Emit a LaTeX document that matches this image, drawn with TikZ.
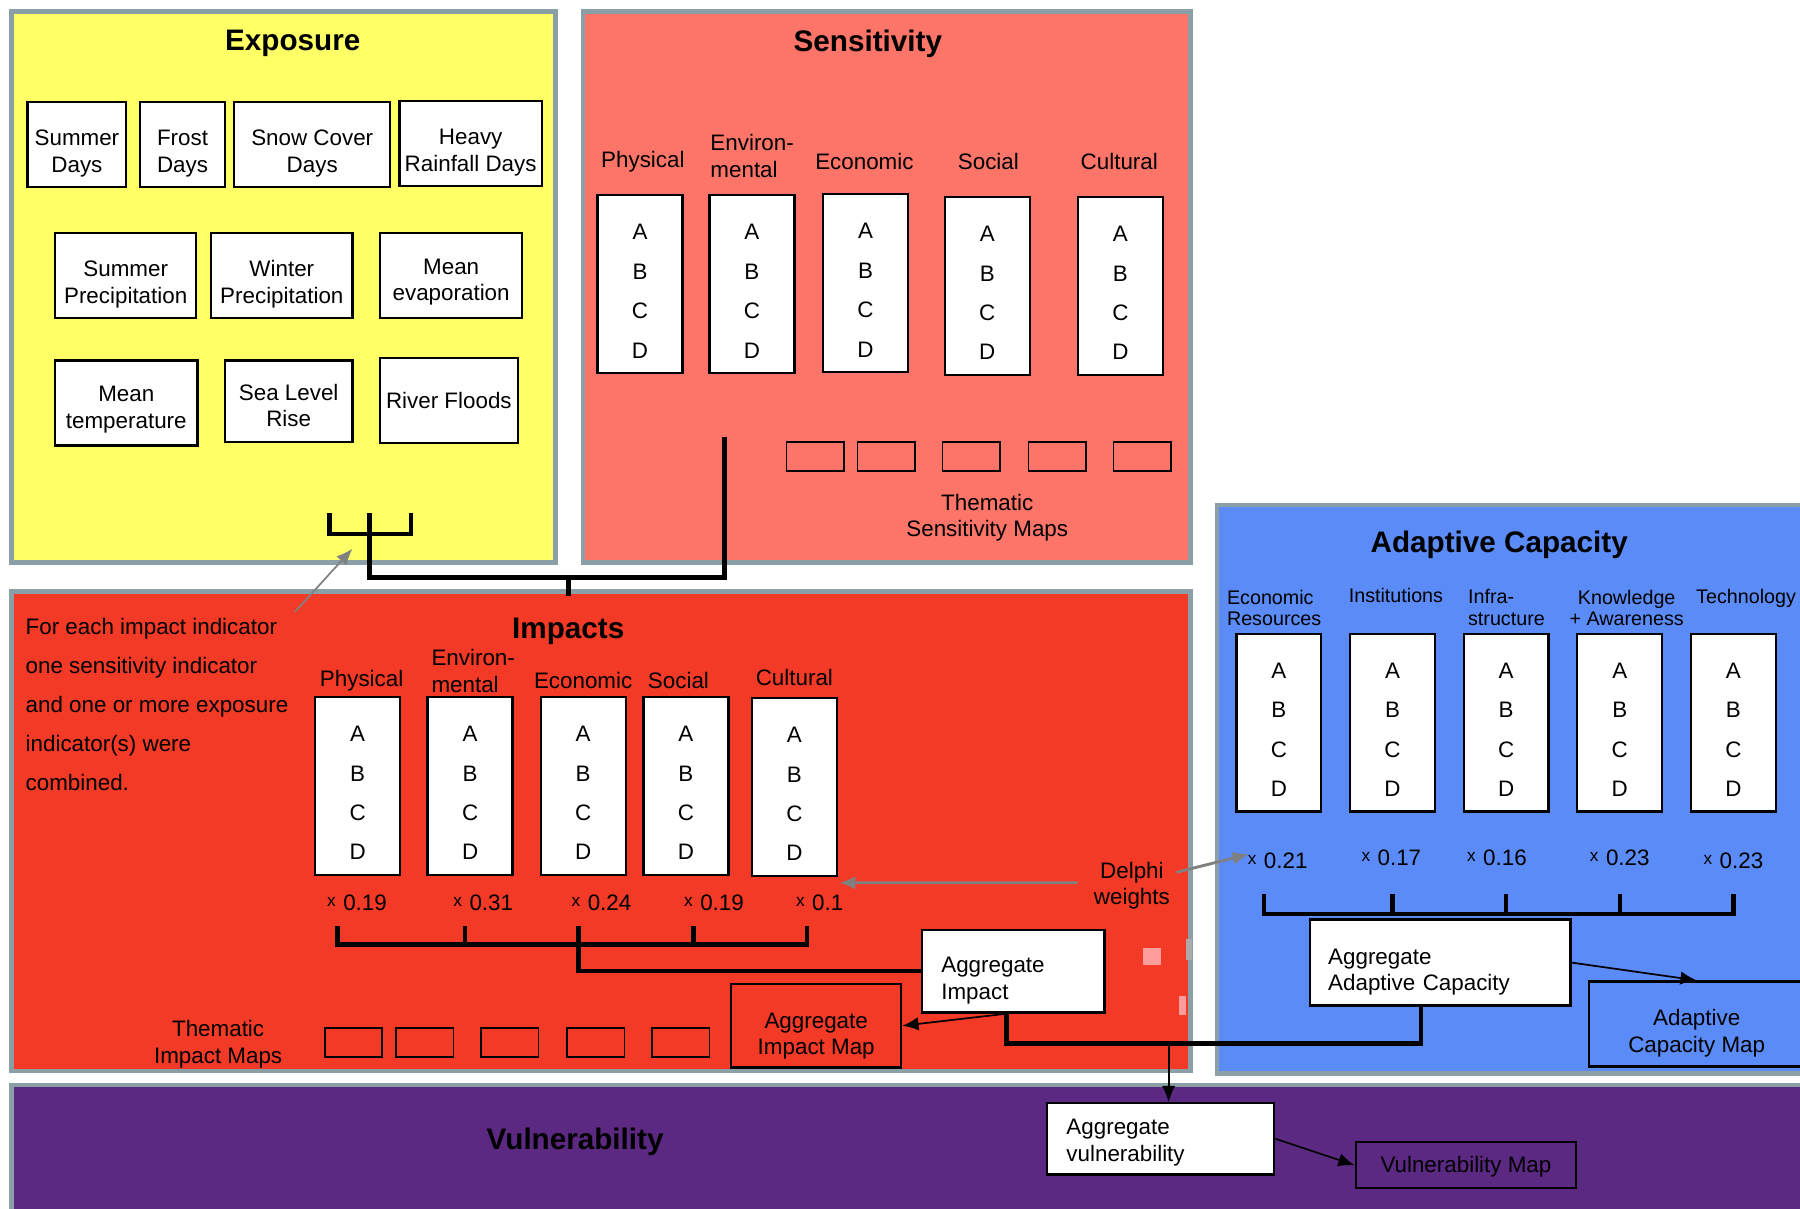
\documentclass[tikz,border=0pt]{standalone}
\usepackage{fontspec}
\setmainfont{Liberation Sans}
\usetikzlibrary{arrows.meta,positioning}
\definecolor{expYellow}{HTML}{FFFF66}
\definecolor{senSalmon}{HTML}{FD7468}
\definecolor{impRed}{HTML}{F33A27}
\definecolor{adaBlue}{HTML}{5B8BF7}
\definecolor{vulPurple}{HTML}{5B2882}
\definecolor{frameGray}{HTML}{8AA0A6}
\definecolor{pointerGray}{HTML}{808080}
\definecolor{artPink}{HTML}{FF9C9C}
\definecolor{artGray}{HTML}{AAAAAA}
\newcommand{\wgt}[1]{\raisebox{2pt}{\fontsize{9}{9}\selectfont x}\,\,#1}
\newcommand{\topgap}[1]{\rule{0pt}{#1}}
\newcommand{\letters}{\topgap{15.6pt}A\\B\\C\\D}

\begin{document}
\begin{tikzpicture}[
    x=0.6pt, y=-0.6pt,
    >={Latex[length=8.5pt,width=7pt]},
    every node/.style={font=\fontsize{11.7}{13.8}\selectfont},
    panel/.style={draw=frameGray,line width=2.4pt},
    ttl/.style={font=\fontsize{15.5}{18}\selectfont\bfseries},
    lab/.style={align=center},
    small/.style={font=\fontsize{10.3}{11.4}\selectfont},
    ibox/.style={draw,fill=white,line width=1.2pt,inner sep=0pt,align=center},
    abcd/.style={ibox,minimum width=44.4pt,minimum height=93pt,font=\fontsize{11.7}{20.6}\selectfont},
    mapbox/.style={draw,line width=0.9pt,minimum width=30pt,minimum height=15pt,inner sep=0pt},
    brk/.style={line width=2.4pt},
    arr/.style={->,line width=0.9pt},
    garr/.style={->,line width=1.5pt,pointerGray}
  ]
  \useasboundingbox (0,0) rectangle (1568,1053);
  %% Panels
  \filldraw[panel,fill=expYellow] (10,10) rectangle (484,490);
  \filldraw[panel,fill=senSalmon] (508,10) rectangle (1037,490);
  \filldraw[panel,fill=impRed] (10,515) rectangle (1037,933);
  \filldraw[panel,fill=adaBlue] (1060,440) rectangle (1600,935);
  \filldraw[panel,fill=vulPurple] (10,945) rectangle (1600,1080);
  \fill[artPink] (996,826) rectangle (1011,841);
  \fill[artGray] (1033,818) rectangle (1038,836);
  \fill[artPink] (1027,868) rectangle (1033,884);
  \node[ttl] (expT) at (255,38) {Exposure};
  \node[ttl] (senT) at (756,38) {Sensitivity};
  \node[ttl] (impT) at (495,550) {Impacts};
  \node[ttl] (adaT) at (1306,475) {Adaptive Capacity};
  \node[ttl] (vulT) at (501,995) {Vulnerability};
  %% Exposure indicators
  \node[ibox,minimum width=51.6pt,minimum height=44.4pt] (eSumD) at (67,126) {\topgap{17.4pt}Summer\\Days};
  \node[ibox,minimum width=44.4pt,minimum height=44.4pt] (eFrost) at (159,126) {\topgap{17.4pt}Frost\\Days};
  \node[ibox,minimum width=81.6pt,minimum height=44.4pt] (eSnow) at (272,126) {\topgap{17.4pt}Snow Cover\\Days};
  \node[ibox,minimum width=74.4pt,minimum height=44.4pt] (eRain) at (410,125) {\topgap{17.4pt}Heavy\\Rainfall Days};
  \node[ibox,minimum width=73.8pt,minimum height=44.4pt] (eSumP) at (109.5,240) {\topgap{17.4pt}Summer\\Precipitation};
  \node[ibox,minimum width=73.8pt,minimum height=44.4pt] (eWinP) at (245.5,240) {\topgap{17.4pt}Winter\\Precipitation};
  \node[ibox,minimum width=74.4pt,minimum height=44.4pt] (eEvap) at (393,240) {\topgap{15pt}Mean\\evaporation};
  \node[ibox,minimum width=74.4pt,minimum height=44.4pt] (eTemp) at (110,351) {\topgap{15pt}Mean\\temperature};
  \node[ibox,minimum width=66.6pt,minimum height=42.6pt] (eSea) at (251.5,349.5) {\topgap{13pt}Sea Level\\Rise};
  \node[ibox,minimum width=72pt,minimum height=44.4pt] (eFlood) at (391,349) {River Floods};
  %% Exposure + sensitivity combined into impacts
  \draw[brk] (287,447) |- (358,465) -- (358,447);
  \draw[brk] (322,447) -- (322,503) -| (631,381);
  \draw[brk] (495,503) -- (495,519);
  %% Sensitivity
  \node (sPhy) at (560,141) {Physical};
  \node[align=left,anchor=west] (sEnv) at (613,136) {Environ-\\mental};
  \node (sEco) at (753,141) {Economic};
  \node (sSoc) at (861,141) {Social};
  \node (sCul) at (975,141) {Cultural};
  \node[abcd] (sB1) at (557.5,247.5) {\letters};
  \node[abcd] (sB2) at (655,247.5) {\letters};
  \node[abcd] (sB3) at (754,246.5) {\letters};
  \node[abcd] (sB4) at (860,249) {\letters};
  \node[abcd] (sB5) at (976,249) {\letters};
  \node[mapbox] (sM1) at (710,397.5) {};
  \node[mapbox] (sM2) at (772,397.5) {};
  \node[mapbox] (sM3) at (846,397.5) {};
  \node[mapbox] (sM4) at (921,397.5) {};
  \node[mapbox] (sM5) at (995,397.5) {};
  \node[lab] (sMapT) at (860,451) {Thematic\\Sensitivity Maps};
  %% Impacts
  \node[align=left,anchor=west,font=\fontsize{11.7}{20.4}\selectfont] (note) at (16.5,614)
        {For each impact indicator\\one sensitivity indicator\\and one or more exposure\\indicator(s) were\\combined.};
  \coordinate (expIn) at (307,478);
  \draw[garr,line width=0.9pt] (note.north east) -- (expIn);
  \node (iPhy) at (315,593) {Physical};
  \node[align=left,anchor=west] (iEnv) at (370,584.5) {Environ-\\mental};
  \node (iEco) at (508,593) {Economic};
  \node (iSoc) at (591,593) {Social};
  \node (iCul) at (692,590.5) {Cultural};
  \node[abcd] (iB1) at (311.5,684.5) {\letters};
  \node[abcd] (iB2) at (409.5,684.5) {\letters};
  \node[abcd] (iB3) at (508,684.5) {\letters};
  \node[abcd] (iB4) at (597.5,684.5) {\letters};
  \node[abcd] (iB5) at (692,685.5) {\letters};
  \node (iW1) at (311,786) {\wgt{0.19}};
  \node (iW2) at (421,786) {\wgt{0.31}};
  \node (iW3) at (524,786) {\wgt{0.24}};
  \node (iW4) at (622,786) {\wgt{0.19}};
  \node (iW5) at (714,786) {\wgt{0.1}};
  \draw[brk] (294,807) |- (703,823) -- (703,807);
  \draw[brk] (405,807) -- (405,823);
  \draw[brk] (604,807) -- (604,823);
  \node[ibox,align=left,text width=75pt,inner xsep=10.2pt,minimum height=43.2pt] (aggimp) at (882.5,846) {\topgap{18pt}Aggregate\\Impact};
  \coordinate (impJoin) at (504,807);
  \draw[brk] (impJoin) -- (504,823) |- (aggimp.west);
  \node[draw,line width=1.2pt,fill=impRed,align=center,minimum width=88.8pt,minimum height=43.8pt,inner sep=0pt] (impmap) at (711,893.5) {\topgap{19pt}Aggregate\\Impact Map};
  \draw[arr] ([xshift=-3.3pt]aggimp.south) -- (impmap.east);
  \node[mapbox] (iM1) at (308,908) {};
  \node[mapbox] (iM2) at (370,908) {};
  \node[mapbox] (iM3) at (444,908) {};
  \node[mapbox] (iM4) at (519,908) {};
  \node[mapbox] (iM5) at (593,908) {};
  \node[lab] (iMapT) at (190,909.5) {Thematic\\Impact Maps};
  %% Delphi weights
  \node[lab] (delphi) at (986,771.5) {Delphi\\weights};
  \coordinate (impWt) at (731,769);
  \coordinate (adaWt) at (1088,744);
  \draw[garr] ([xshift=-5pt,yshift=1.5pt]delphi.west) -- (impWt);
  \draw[garr] ([yshift=7pt]delphi.east) -- (adaWt);
  %% Adaptive capacity
  \node[small,align=left,anchor=west] (aEco) at (1063,529.5) {Economic\\Resources};
  \node[small] (aIns) at (1216,519) {Institutions};
  \node[small,align=left,anchor=west] (aInf) at (1273,529.5) {Infra-\\structure};
  \node[small,align=center] (aKno) at (1417,529.5) {Knowledge\\+ Awareness};
  \node[small] (aTec) at (1521,521) {Technology};
  \node[abcd] (aB1) at (1114,629.5) {\letters};
  \node[abcd] (aB2) at (1213,629.5) {\letters};
  \node[abcd] (aB3) at (1312,629.5) {\letters};
  \node[abcd] (aB4) at (1411,629.5) {\letters};
  \node[abcd] (aB5) at (1510,629.5) {\letters};
  \node (aW1) at (1113,750) {\wgt{0.21}};
  \node (aW2) at (1212,747) {\wgt{0.17}};
  \node (aW3) at (1304,747) {\wgt{0.16}};
  \node (aW4) at (1411,747) {\wgt{0.23}};
  \node (aW5) at (1510,750) {\wgt{0.23}};
  \draw[brk] (1101,779) |- (1510,796) -- (1510,779);
  \draw[brk] (1213,779) -- (1213,796);
  \draw[brk] (1312,779) -- (1312,796);
  \draw[brk] (1411,779) -- (1411,796);
  \node[ibox,align=left,text width=117pt,inner xsep=9.6pt,minimum height=45pt] (aac) at (1254.5,838.5) {\topgap{18pt}Aggregate\\Adaptive Capacity};
  \node[draw,line width=1.2pt,align=center,minimum width=112.8pt,minimum height=44.4pt,inner sep=0pt] (acm) at (1478,892) {\topgap{18pt}Adaptive\\Capacity Map};
  \draw[arr] (aac.east) -- (acm.north);
  %% Vulnerability
  \node[ibox,align=left,text width=98.4pt,inner xsep=10.2pt,minimum height=37.2pt] (aggvul) at (1011,992) {\topgap{12pt}Aggregate\\vulnerability};
  \node[draw,line width=1.2pt,minimum width=115.2pt,minimum height=24pt] (vulmap) at (1277,1015) {\topgap{10pt}Vulnerability Map};
  \draw[arr] (aggvul.east) -- (vulmap.west);
  \coordinate (aacIn) at ([xshift=-10pt]aac.south);
  \coordinate (vulDrop) at (1018,909);
  \draw[brk] ([xshift=-3.3pt]aggimp.south) |- (aacIn |- vulDrop) -- (aacIn);
  \draw[arr] (vulDrop) -- (vulDrop |- aggvul.north);
\end{tikzpicture}
\end{document}
